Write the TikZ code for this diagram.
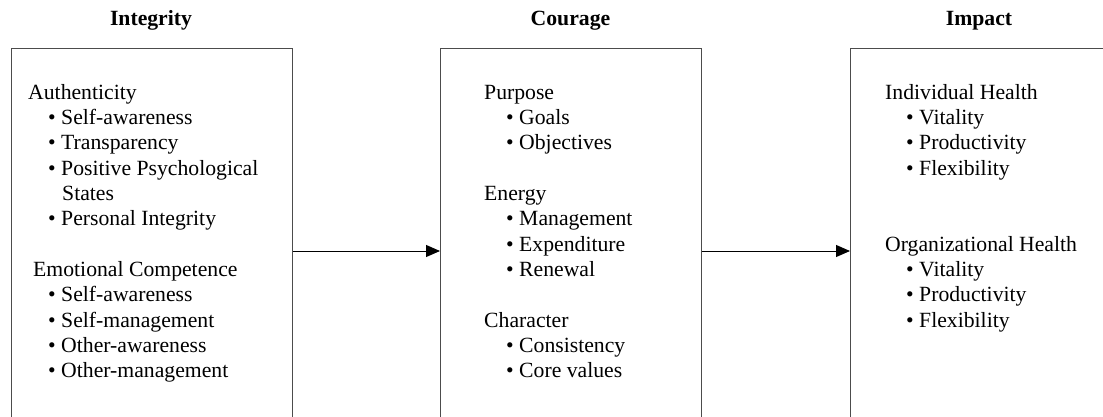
\documentclass[tikz,border=0pt]{standalone}
\usepackage{fontspec}
\setmainfont{Liberation Serif}
\usetikzlibrary{arrows.meta}
\tikzset{
  boxstyle/.style={draw=black!70, line width=1.3pt, inner sep=0pt, anchor=north west, minimum width=#1, minimum height=480pt},
  conn/.style={draw=black, line width=1pt, -{Triangle[length=14pt,width=12pt]}},
  txt/.style={anchor=base west, inner sep=0pt, font=\fontsize{21.7}{25}\selectfont, text=black},
  ttl/.style={anchor=base, inner sep=0pt, font=\fontsize{21.7}{25}\selectfont\bfseries, text=black}
}
\begin{document}
\begin{tikzpicture}[x=1pt,y=-1pt]
\useasboundingbox (0,0) rectangle (1103,416);
\begin{scope}
\clip (0,0) rectangle (1103,416);
\node[boxstyle=281pt] (box1) at (11,48) {};
\node[boxstyle=261pt] (box2) at (440,48) {};
\node[boxstyle=300pt] (box3) at (850,48) {};
\end{scope}
% titles
\node[ttl] (t1) at (151,25) {Integrity};
\node[ttl] (t2) at (570.5,25) {Courage};
\node[ttl] (t3) at (979,25) {Impact};
% box 1
\node[txt] (a0) at (28,99) {Authenticity};
\node[txt] (a1) at (48,124.3) {• Self-awareness};
\node[txt] (a2) at (48,149.6) {• Transparency};
\node[txt] (a3) at (48,175) {• Positive Psychological};
\node[txt] (a3b) at (62,200) {States};
\node[txt] (a4) at (48,225.6) {• Personal Integrity};
\node[txt] (e0) at (33,276.5) {Emotional Competence};
\node[txt] (e1) at (48,301.8) {• Self-awareness};
\node[txt] (e2) at (48,327) {• Self-management};
\node[txt] (e3) at (48,352.5) {• Other-awareness};
\node[txt] (e4) at (48,377.6) {• Other-management};
% box 2
\node[txt] (p0) at (484,99) {Purpose};
\node[txt] (p1) at (506,124.3) {• Goals};
\node[txt] (p2) at (506,149.6) {• Objectives};
\node[txt] (g0) at (484,200) {Energy};
\node[txt] (g1) at (506,225.6) {• Management};
\node[txt] (g2) at (506,251) {• Expenditure};
\node[txt] (g3) at (506,276.3) {• Renewal};
\node[txt] (c0) at (484,327) {Character};
\node[txt] (c1) at (506,352.5) {• Consistency};
\node[txt] (c2) at (506,377.6) {• Core values};
% box 3
\node[txt] (i0) at (885,99) {Individual Health};
\node[txt] (i1) at (906,124.3) {• Vitality};
\node[txt] (i2) at (906,149.6) {• Productivity};
\node[txt] (i3) at (906,175) {• Flexibility};
\node[txt] (o0) at (885,251) {Organizational Health};
\node[txt] (o1) at (906,276.3) {• Vitality};
\node[txt] (o2) at (906,301.8) {• Productivity};
\node[txt] (o3) at (906,327) {• Flexibility};
% arrows
\coordinate (ay) at (0,251);
\draw[conn] (box1.east |- ay) -- (box2.west |- ay);
\draw[conn] (box2.east |- ay) -- (box3.west |- ay);
\end{tikzpicture}
\end{document}
